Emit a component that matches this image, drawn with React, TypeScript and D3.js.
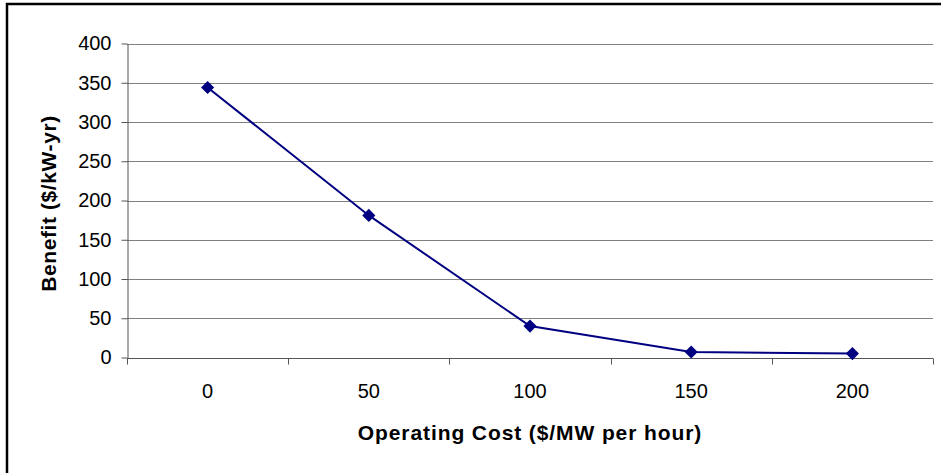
import React, { useEffect, useRef } from "react";
import * as d3 from "d3";

const categories = ["0", "50", "100", "150", "200"];
const benefit = [344, 181, 40, 7, 5];
const yTicks = [0, 50, 100, 150, 200, 250, 300, 350, 400];
const xTitle = "Operating Cost ($/MW per hour)";
const yTitle = "Benefit ($/kW-yr)";

const W = 941;
const H = 473;
const M = { left: 127, right: 933, top: 43.5, bottom: 357.5 };

export default function App() {
  const ref = useRef<SVGSVGElement>(null);
  useEffect(() => {
    const svg = d3.select(ref.current);
    svg.selectAll("*").remove();
    const font = "'Liberation Sans', Arial, sans-serif";

    const x = d3.scaleBand().domain(categories).range([M.left, M.right]).paddingInner(0).paddingOuter(0);
    const y = d3.scaleLinear().domain([0, 400]).range([M.bottom, M.top]);

    svg.append("rect").attr("width", W).attr("height", H).attr("fill", "#fff");
    // outer frame (only top and left visible)
    svg.append("path").attr("d", `M7,${H} L7,4 L${W},4`).attr("fill", "none").attr("stroke", "#000").attr("stroke-width", 2.5);

    // gridlines
    svg.append("g").selectAll("line").data(yTicks.filter((t) => t > 0)).join("line")
      .attr("x1", M.left).attr("x2", M.right)
      .attr("y1", (d) => Math.round(y(d)) + 0.5).attr("y2", (d) => Math.round(y(d)) + 0.5)
      .attr("stroke", "#808080").attr("stroke-width", 1);

    // y axis
    const yAxis = svg.append("g").attr("transform", `translate(${M.left + 0.5},0)`)
      .call(d3.axisLeft(y).tickValues(yTicks).tickSize(6).tickSizeOuter(0).tickPadding(10));
    yAxis.select(".domain").attr("stroke", "#555");
    yAxis.selectAll(".tick line").attr("stroke", "#555");
    yAxis.selectAll(".tick text").attr("font-family", font).attr("font-size", 20).attr("fill", "#000");

    // x axis
    const xg = svg.append("g").attr("transform", `translate(0,${Math.round(M.bottom) + 0.5})`);
    xg.append("line").attr("x1", M.left).attr("x2", M.right).attr("stroke", "#555");
    const bounds = categories.map((c) => x(c) as number).concat([M.right]);
    xg.selectAll("line.t").data(bounds).join("line").attr("class", "t")
      .attr("x1", (d) => Math.round(d) + 0.5).attr("x2", (d) => Math.round(d) + 0.5)
      .attr("y1", 0).attr("y2", 6).attr("stroke", "#555");
    xg.selectAll("text").data(categories).join("text")
      .attr("x", (d) => (x(d) as number) + x.bandwidth() / 2)
      .attr("y", 39).attr("text-anchor", "middle")
      .attr("font-family", font).attr("font-size", 20).attr("fill", "#000")
      .text((d) => d);

    // line
    const cx = (i: number) => (x(categories[i]) as number) + x.bandwidth() / 2;
    const line = d3.line<number>().x((_, i) => cx(i)).y((d) => y(d));
    svg.append("path").datum(benefit).attr("d", line).attr("fill", "none")
      .attr("stroke", "#000080").attr("stroke-width", 2);
    svg.append("g").selectAll("path").data(benefit).join("path")
      .attr("d", d3.symbol().type(d3.symbolDiamond2).size(110)())
      .attr("transform", (d, i) => `translate(${cx(i)},${y(d)})`)
      .attr("fill", "#000080");

    // titles
    svg.append("text").attr("x", (M.left + M.right) / 2).attr("y", 440)
      .attr("text-anchor", "middle").attr("font-family", font).attr("font-weight", "bold")
      .attr("font-size", 21).attr("letter-spacing", 0.9).text(xTitle);
    svg.append("text").attr("transform", `translate(56,${(M.top + M.bottom) / 2 + 3}) rotate(-90)`)
      .attr("text-anchor", "middle").attr("font-family", font).attr("font-weight", "bold")
      .attr("font-size", 21).attr("letter-spacing", 0.6).text(yTitle);
  }, []);
  return (
    <svg ref={ref} width={W} height={H} style={{ position: "absolute", left: 0, top: 0, display: "block" }} />
  );
}
